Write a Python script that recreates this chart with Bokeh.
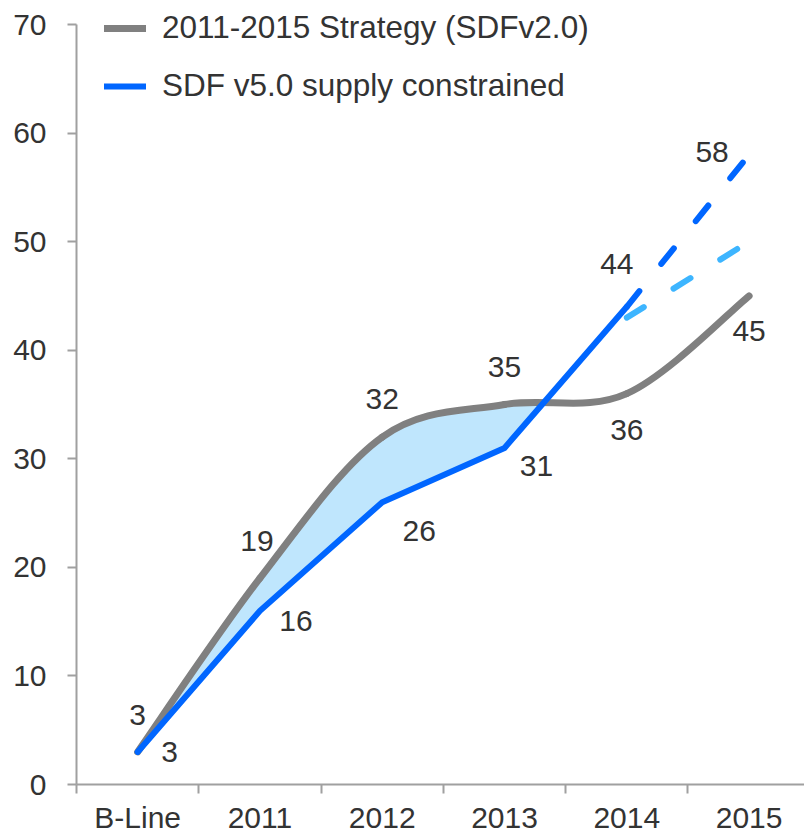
import numpy as np
from bokeh.plotting import figure
from bokeh.models import Range1d, FixedTicker, Legend, LegendItem, ColumnDataSource
from bokeh.embed import file_html
from bokeh.resources import INLINE
from bokeh.core.properties import value

# ---------------- data ----------------
categories = ["B-Line", "2011", "2012", "2013", "2014", "2015"]
strategy = [3, 19, 32, 35, 36, 45]        # 2011-2015 Strategy (SDFv2.0), smoothed grey line
supply = [3, 16, 26, 31, 44]              # SDF v5.0 supply constrained, B-Line..2014 (solid)
supply_proj = [44, 58]                    # projection 2014..2015 (dashed blue)
alt_proj = [43, 50]                       # alternative projection 2014..2015 (dashed light blue)
y_ticks = [0, 10, 20, 30, 40, 50, 60, 70]

# ---------------- styles ----------------
FONT = "Liberation Sans"
TXT = "#333333"
GREY = "#808080"
BLUE = "#0066FF"
LBLUE = "#3DB5FF"
FILL = "#BFE6FD"
AXIS = "#A0A0A0"
FS = "30px"

xs = list(range(len(categories)))

# frame spans 8..784 px vertically; the axis itself only runs 0..70 (headroom for legend)
y_max = y_ticks[-1]
y_top = y_max + 16 * y_max / 760

p = figure(width=804, height=836, output_backend="svg", toolbar_location=None,
           x_range=Range1d(-0.5, 5.453), y_range=Range1d(0, y_top),
           min_border_left=76, min_border_right=0, min_border_top=8, min_border_bottom=52)
p.outline_line_color = None
p.grid.visible = False
p.background_fill_color = "white"
p.border_fill_color = "white"

# ---------- smoothed curve (Bezier control points from neighbouring points) ----------
def smooth_segments(px, py, k=1/6):
    P = np.column_stack([px, py]).astype(float)
    n = len(P)
    segs = []
    for i in range(n - 1):
        p0 = P[i - 1] if i > 0 else P[i]
        p1, p2 = P[i], P[i + 1]
        p3 = P[i + 2] if i + 2 < n else P[i + 1]
        segs.append((p1, p1 + (p2 - p0) * k, p2 - (p3 - p1) * k, p2))
    return segs

segs = smooth_segments(xs, strategy)

# fill region between smoothed strategy curve and supply line until they cross
t = np.linspace(0, 1, 60)[:, None]
curve = np.vstack([((1 - t) ** 3) * a + 3 * ((1 - t) ** 2) * t * b + 3 * (1 - t) * t ** 2 * c + t ** 3 * d
                   for a, b, c, d in segs])
sx = xs[:len(supply)]
blue_at = np.interp(curve[:, 0], sx, supply)
diff = curve[:, 1] - blue_at
idx = np.where((diff < 0) & (curve[:, 0] > 0.5))[0][0]
f = diff[idx - 1] / (diff[idx - 1] - diff[idx])
xc = curve[idx - 1, 0] + f * (curve[idx, 0] - curve[idx - 1, 0])
yc = curve[idx - 1, 1] + f * (curve[idx, 1] - curve[idx - 1, 1])
poly_x = list(curve[:idx, 0]) + [xc] + [xx for xx in reversed(sx) if xx < xc]
poly_y = list(curve[:idx, 1]) + [yc] + [yy for xx, yy in reversed(list(zip(sx, supply))) if xx < xc]
p.patch(poly_x, poly_y, fill_color=FILL, line_color=None)

bez = ColumnDataSource(dict(
    x0=[s[0][0] for s in segs], y0=[s[0][1] for s in segs],
    cx0=[s[1][0] for s in segs], cy0=[s[1][1] for s in segs],
    cx1=[s[2][0] for s in segs], cy1=[s[2][1] for s in segs],
    x1=[s[3][0] for s in segs], y1=[s[3][1] for s in segs]))
grey_r = p.bezier(x0="x0", y0="y0", x1="x1", y1="y1", cx0="cx0", cy0="cy0", cx1="cx1", cy1="cy1",
                  source=bez, line_color=GREY, line_width=7, line_cap="round")

proj_x = xs[4:6]
p.line(proj_x, alt_proj, line_color=LBLUE, line_width=6, line_dash="20 35", line_cap="round")
blue_r = p.line(sx, supply, line_color=BLUE, line_width=6, line_cap="round", line_join="miter")
p.line(proj_x, supply_proj, line_color=BLUE, line_width=6, line_dash="20 35", line_cap="round")

# ---------- data labels ----------
g_dx = [0, -3, 0, 0, 0, 0]
g_dy = [-37, -37, -38, -38, 36, 35]
b_vals = supply + supply_proj[1:]
b_dx = [32, 36, 37, 32, -10, -37]
b_dy = [0, 10, 29, 18, -43, -3]
lab = ColumnDataSource(dict(
    x=xs + xs, y=strategy + b_vals,
    t=[str(v) for v in strategy] + [str(v) for v in b_vals],
    dx=g_dx + b_dx, dy=g_dy + b_dy))
p.text(x="x", y="y", text="t", x_offset="dx", y_offset="dy", source=lab,
       text_font=value(FONT), text_font_size=FS, text_color=TXT,
       text_align="center", text_baseline="middle")

# ---------- axes ----------
xa = p.xaxis[0]
xa.ticker = FixedTicker(ticks=xs, minor_ticks=[i - 0.5 for i in range(len(categories) + 1)])
xa.major_label_overrides = {i: c for i, c in enumerate(categories)}
xa.major_tick_out = 9
xa.major_tick_in = 0
xa.major_tick_line_color = None
xa.minor_tick_out = 9
xa.minor_tick_in = 0
xa.minor_tick_line_color = AXIS
xa.minor_tick_line_width = 2
xa.axis_line_color = AXIS
xa.axis_line_width = 2
xa.major_label_standoff = 7
xa.major_label_text_font = FONT
xa.major_label_text_font_size = FS
xa.major_label_text_color = TXT

ya = p.yaxis[0]
ya.ticker = FixedTicker(ticks=y_ticks, minor_ticks=[])
ya.bounds = (0, y_max)
ya.major_tick_out = 9
ya.major_tick_in = 0
ya.major_tick_line_color = AXIS
ya.major_tick_line_width = 2
ya.minor_tick_line_color = None
ya.axis_line_color = AXIS
ya.axis_line_width = 2
ya.major_label_standoff = 21
ya.major_label_text_font = FONT
ya.major_label_text_font_size = FS
ya.major_label_text_color = TXT

# ---------- legend ----------
legend = Legend(items=[LegendItem(label="2011-2015 Strategy (SDFv2.0)", renderers=[grey_r]),
                       LegendItem(label="SDF v5.0 supply constrained", renderers=[blue_r])],
                location=(28, 680), orientation="vertical",
                glyph_width=42, glyph_height=36, label_height=36, spacing=21,
                padding=0, margin=0, label_standoff=16,
                label_text_font=FONT, label_text_font_size="31.5px", label_text_color=TXT,
                border_line_color=None, background_fill_alpha=0)
p.add_layout(legend)

open("out.html", "w").write(file_html(p, INLINE))
